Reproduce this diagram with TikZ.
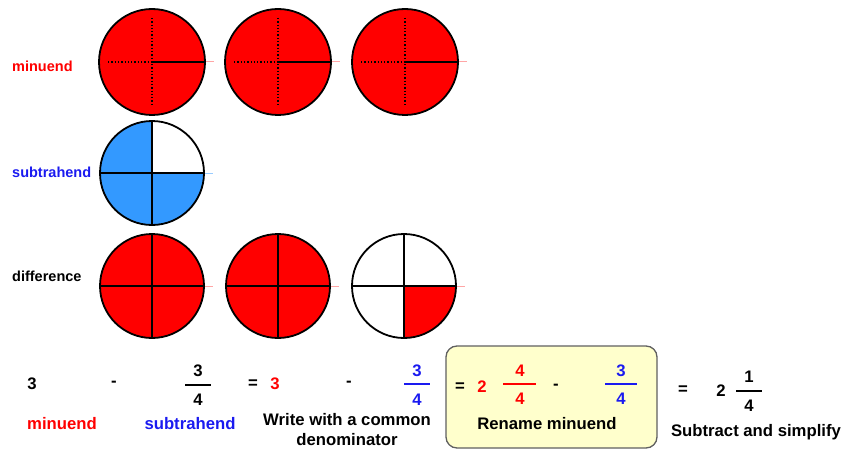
\documentclass[tikz,border=0pt]{standalone}
\usepackage{fontspec}
\setmainfont{Liberation Sans}
\definecolor{cred}{HTML}{FF0000}
\definecolor{cblue}{HTML}{1A1AF0}
\definecolor{cfill}{HTML}{3399FF}
\definecolor{cbox}{HTML}{FFFFCC}
\tikzset{
  lab/.style={font=\bfseries\fontsize{14.5}{17}\selectfont, inner sep=0pt},
  txt/.style={font=\bfseries\fontsize{16.7}{20}\selectfont, inner sep=0pt, align=center},
  fbar/.style={line width=2.6pt},
  rim/.style={line width=1.8pt},
  cross/.style={line width=1.8pt},
  dotline/.style={dotted, line width=1.3pt},
  tail/.style={line width=1pt},
  rbox/.style={draw=gray!75!black, fill=cbox, rounded corners=11pt, line width=1.3pt,
    minimum width=211pt, minimum height=102pt, inner sep=0pt},
}
\begin{document}
\begin{tikzpicture}[x=1pt,y=-1pt]
\useasboundingbox (0,0) rectangle (847,452);
% ---- minuend row ----
\foreach \i/\cx in {1/152,2/278,3/405}{
  \coordinate (m\i) at (\cx,62);
  \fill[cred] (m\i) circle (53pt);
  \draw[dotline] ([yshift=44pt]m\i) -- ([yshift=-44pt]m\i);
  \draw[dotline] ([xshift=-44pt]m\i) -- (m\i);
  \draw[cross] (m\i) -- ([xshift=53pt]m\i);
  \draw[tail, cred!35] ([xshift=53pt]m\i) -- ([xshift=62pt]m\i);
  \draw[rim] (m\i) circle (53pt);
}
% ---- subtrahend ----
\coordinate (s1) at (152,173);
\fill[cfill] (s1) -- +(90:52pt) arc[start angle=90, end angle=360, radius=52pt] -- cycle;
\draw[cross] ([yshift=52pt]s1) -- ([yshift=-52pt]s1);
\draw[cross] ([xshift=-52pt]s1) -- ([xshift=52pt]s1);
\draw[tail, cfill!50] ([xshift=52pt]s1) -- ([xshift=61pt]s1);
\draw[rim] (s1) circle (52pt);
% ---- difference ----
\foreach \i/\cx in {1/152,2/278,3/404}{
  \coordinate (d\i) at (\cx,286);
}
\fill[cred] (d1) circle (52pt);
\fill[cred] (d2) circle (52pt);
\fill[cred] (d3) -- +(270:52pt) arc[start angle=270, end angle=360, radius=52pt] -- cycle;
\foreach \i in {1,2,3}{
  \draw[cross] ([yshift=52pt]d\i) -- ([yshift=-52pt]d\i);
  \draw[cross] ([xshift=-52pt]d\i) -- ([xshift=52pt]d\i);
  \draw[tail, cred!35] ([xshift=52pt]d\i) -- ([xshift=61pt]d\i);
  \draw[rim] (d\i) circle (52pt);
}
% ---- row labels ----
\node[lab, text=cred, anchor=west] (lm) at (12,66) {minuend};
\node[lab, text=cblue, anchor=west] (ls) at (12,172) {subtrahend};
\node[lab, anchor=west] (ld) at (12,276) {difference};
% ---- box ----
\node[rbox] (box) at (551.5,397) {};
% ---- equation ----
\node[txt] (a3) at (32,384) {3};
\node[txt] (am) at (114,384) {-};
\node[txt] (f1n) at (198,371) {3};
\draw[fbar] (185,385) -- (211,385);
\node[txt] (f1d) at (198,400) {4};
\node[txt] (eq1) at (253,384) {=};
\node[txt, text=cred] (b3) at (275,384) {3};
\node[txt] (bm) at (349,384) {-};
\node[txt, text=cblue] (f2n) at (417,371) {3};
\draw[fbar, cblue] (404,384) -- (430,384);
\node[txt, text=cblue] (f2d) at (417,400) {4};
\node[txt] (eq2) at (460,387) {=};
\node[txt, text=cred] (c2) at (482,387) {2};
\node[txt, text=cred] (f3n) at (520,371) {4};
\draw[fbar, cred] (503,384) -- (536,384);
\node[txt, text=cred] (f3d) at (520,399) {4};
\node[txt] (cm) at (556,387) {-};
\node[txt, text=cblue] (f4n) at (621,371) {3};
\draw[fbar, cblue] (605,384) -- (637,384);
\node[txt, text=cblue] (f4d) at (621,399) {4};
\node[txt] (eq3) at (683,390) {=};
\node[txt] (e2) at (721,391) {2};
\node[txt] (f5n) at (749,377) {1};
\draw[fbar] (736,391) -- (762,391);
\node[txt] (f5d) at (749,406) {4};
% ---- captions ----
\node[txt, text=cred] (tm) at (62,424) {minuend};
\node[txt, text=cblue] (ts) at (190,424) {subtrahend};
\node[txt] (tw) at (347,430) {Write with a common\\denominator};
\node[txt] (tr) at (547,424) {Rename minuend};
\node[txt] (tsub) at (756,432) {Subtract and simplify};
\end{tikzpicture}
\end{document}
